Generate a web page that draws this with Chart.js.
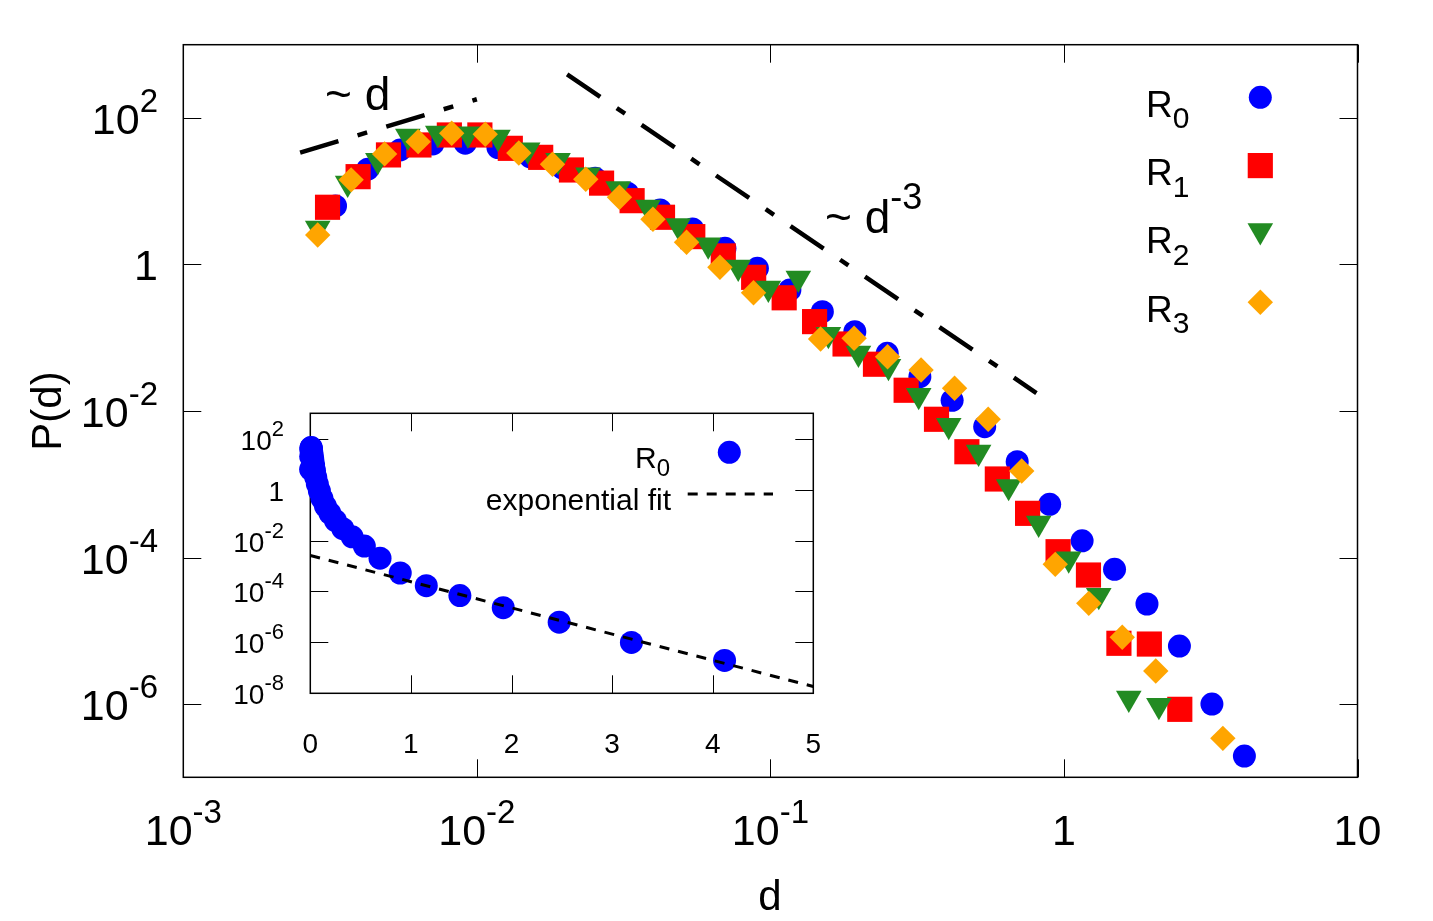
<!DOCTYPE html>
<html>
<head>
<meta charset="utf-8">
<title>P(d)</title>
<script src="https://cdn.jsdelivr.net/npm/chart.js@4.4.1/dist/chart.umd.min.js"></script>
<style>
  body { margin: 0; background: #fff; }
  #wrap { position: relative; width: 1433px; height: 921px; }
  #main { position: absolute; left: 0; top: 0; }
  #inset { position: absolute; left: 225px; top: 400px; }
</style>
</head>
<body>
<div id="wrap">
  <canvas id="main" width="1433" height="921"></canvas>
  <canvas id="inset" width="615" height="365"></canvas>
</div>
<script>
// ---- data ----
const r0D = [0.00330, 0.00425, 0.00548, 0.00708, 0.00913, 0.0118, 0.0152, 0.0196, 0.0253, 0.0326, 0.0421, 0.0543, 0.0700, 0.0903, 0.1165, 0.1503, 0.1939, 0.250, 0.323, 0.416, 0.537, 0.693, 0.894, 1.153, 1.487, 1.918, 2.474, 3.192, 4.118];
const r0P = [6.30, 20.0, 36.6, 44.2, 45.2, 39.4, 29.4, 20.7, 15.0, 9.38, 5.55, 3.05, 1.66, 0.887, 0.449, 0.227, 0.121, 0.0614, 0.0294, 0.0140, 0.00611, 0.00203, 5.32e-4, 1.69e-4, 6.90e-5, 2.32e-5, 6.19e-6, 1.00e-6, 1.95e-7];

const r1D = [0.00310, 0.00394, 0.00500, 0.00635, 0.00806, 0.01024, 0.0130, 0.0165, 0.0210, 0.0266, 0.0338, 0.0429, 0.0544, 0.0691, 0.0877, 0.1114, 0.1414, 0.1796, 0.228, 0.290, 0.368, 0.467, 0.593, 0.752, 0.955, 1.212, 1.539, 1.954, 2.481];
const r1P = [6.04, 15.8, 31.3, 42.8, 58.6, 58.6, 38.5, 29.0, 19.5, 12.9, 7.43, 4.41, 2.40, 1.31, 0.668, 0.351, 0.166, 0.0822, 0.0435, 0.0192, 0.00771, 0.00278, 0.00118, 4.01e-4, 1.20e-4, 5.77e-5, 6.75e-6, 6.59e-6, 8.47e-7];

const r2D = [0.00287, 0.00363, 0.00460, 0.00582, 0.00736, 0.00932, 0.0118, 0.0149, 0.0189, 0.0239, 0.0303, 0.0383, 0.0485, 0.0614, 0.0777, 0.0984, 0.1245, 0.1576, 0.1995, 0.2525, 0.320, 0.405, 0.512, 0.648, 0.820, 1.038, 1.314, 1.663, 2.106];
const r2P = [3.13, 12.9, 26.3, 56.5, 61.9, 60.7, 54.7, 36.7, 26.3, 16.7, 10.8, 6.05, 3.40, 1.85, 0.918, 0.474, 0.650, 0.111, 0.0615, 0.0406, 0.0163, 0.00634, 0.00274, 9.31e-4, 2.94e-4, 9.57e-5, 3.03e-5, 1.20e-6, 9.55e-7];

const r3D = [0.00287, 0.00373, 0.00485, 0.00631, 0.00821, 0.01068, 0.0139, 0.0181, 0.0235, 0.0306, 0.0398, 0.0518, 0.0673, 0.0876, 0.1482, 0.1928, 0.2507, 0.326, 0.424, 0.552, 0.718, 0.934, 1.215, 1.580, 2.055, 3.478];
const r3P = [2.53, 14.3, 32.3, 47.5, 61.8, 59.9, 33.3, 23.3, 14.6, 8.26, 4.14, 2.01, 0.916, 0.412, 0.0962, 0.0984, 0.0551, 0.0363, 0.0204, 0.00771, 0.00152, 8.07e-5, 2.37e-5, 8.15e-6, 2.82e-6, 3.40e-7];

// guide lines ~d and ~d^-3
const upD = [0.0025, 0.0100];
const upP = [33.6, 180];
const downD = [0.0203, 0.806];
const downP = [393, 0.0176];

// inset exponential fit
const fitD = [0, 5];
const fitP = [2.6e-3, 1.85e-8];

// ticks and labels
const mainXTicks = [1e-3, 1e-2, 1e-1, 1, 10];
const mainXLabels = [['10', '-3'], ['10', '-2'], ['10', '-1'], ['1', ''], ['10', '']];
const mainYTicks = [1e2, 1, 1e-2, 1e-4, 1e-6];
const mainYLabels = [['10', '2'], ['1', ''], ['10', '-2'], ['10', '-4'], ['10', '-6']];
const insetXTicks = [0, 1, 2, 3, 4, 5];
const insetYTicks = [1e2, 1, 1e-2, 1e-4, 1e-6, 1e-8];
const insetYLabels = [['10', '2'], ['1', ''], ['10', '-2'], ['10', '-4'], ['10', '-6'], ['10', '-8']];

const seriesNames = ['R', 'R', 'R', 'R'];
const seriesSubs = ['0', '1', '2', '3'];

// ---- styles ----
const FONT = '"Liberation Sans", Arial, Helvetica, sans-serif';
const BLUE = '#0000ff', RED = '#ff0000', GREEN = '#228b22', ORANGE = '#ffa500';

const markers = [
    { pointStyle: 'circle',   rotation: 0,   radius: 11.5, color: BLUE },
    { pointStyle: 'rect',     rotation: 0,   radius: 17.8, color: RED },
    { pointStyle: 'triangle', rotation: 180, radius: 14.8, color: GREEN },
    { pointStyle: 'rectRot',  rotation: 0,   radius: 12.7, color: ORANGE }
];

function toXY(xs, ys) {
    return xs.map((x, i) => ({ x: x, y: ys[i] }));
}

// text with superscript (shift < 0) or subscript (shift > 0)
function scriptText(ctx, base, script, x, y, align, size, smallSize, shift) {
    ctx.font = size + 'px ' + FONT;
    const wb = ctx.measureText(base).width;
    ctx.font = smallSize + 'px ' + FONT;
    const ws = script ? ctx.measureText(script).width : 0;
    const w = wb + ws;
    let x0 = x;
    if (align === 'center') x0 = x - w / 2;
    if (align === 'right') x0 = x - w;
    ctx.textAlign = 'left';
    ctx.textBaseline = 'alphabetic';
    ctx.font = size + 'px ' + FONT;
    ctx.fillText(base, x0, y);
    if (script) {
        ctx.font = smallSize + 'px ' + FONT;
        ctx.fillText(script, x0 + wb, y + shift);
    }
}

function drawMarker(ctx, m, x, y) {
    ctx.save();
    ctx.fillStyle = m.color;
    Chart.helpers.drawPoint(ctx, { pointStyle: m.pointStyle, rotation: m.rotation, radius: m.radius, borderWidth: 0 }, x, y);
    ctx.restore();
}

function frameAndTicks(chart, xTicks, yTicks, len) {
    const ctx = chart.ctx, a = chart.chartArea, sx = chart.scales.x, sy = chart.scales.y;
    ctx.save();
    ctx.strokeStyle = '#000';
    ctx.lineWidth = 1;
    ctx.beginPath();
    xTicks.forEach(v => {
        const px = Math.round(sx.getPixelForValue(v)) + 0.5;
        ctx.moveTo(px, a.bottom); ctx.lineTo(px, a.bottom - len);
        ctx.moveTo(px, a.top); ctx.lineTo(px, a.top + len);
    });
    yTicks.forEach(v => {
        const py = Math.round(sy.getPixelForValue(v)) + 0.5;
        ctx.moveTo(a.left, py); ctx.lineTo(a.left + len, py);
        ctx.moveTo(a.right, py); ctx.lineTo(a.right - len, py);
    });
    ctx.stroke();
    ctx.lineWidth = 1.5;
    ctx.strokeRect(a.left, a.top, a.right - a.left, a.bottom - a.top);
    ctx.restore();
}

// ---- main chart decorations ----
const mainDeco = {
    id: 'mainDeco',
    beforeDatasetsDraw(chart) {
        frameAndTicks(chart, mainXTicks, mainYTicks, 18);
    },
    afterDraw(chart) {
        const ctx = chart.ctx, sx = chart.scales.x, sy = chart.scales.y;
        ctx.save();
        ctx.fillStyle = '#000';

        // tick labels
        mainXTicks.forEach((v, i) => {
            scriptText(ctx, mainXLabels[i][0], mainXLabels[i][1], sx.getPixelForValue(v), 845, 'center', 43, 33, -22);
        });
        mainYTicks.forEach((v, i) => {
            scriptText(ctx, mainYLabels[i][0], mainYLabels[i][1], 158, sy.getPixelForValue(v) + 16, 'right', 43, 33, -22);
        });

        // axis titles
        ctx.font = '42px ' + FONT;
        ctx.textAlign = 'center';
        ctx.textBaseline = 'alphabetic';
        ctx.fillText('d', 770, 910);
        ctx.save();
        ctx.translate(49, 411);
        ctx.rotate(-Math.PI / 2);
        ctx.textBaseline = 'middle';
        ctx.fillText('P(d)', 0, 0);
        ctx.restore();

        // slope annotations
        scriptText(ctx, '~ d', '', 325, 110, 'left', 46, 35, 0);
        scriptText(ctx, '~ d', '-3', 825, 233, 'left', 46, 36, -24);

        // legend
        for (let i = 0; i < 4; i++) {
            const base = 116.7 + i * 68.3;
            scriptText(ctx, seriesNames[i], seriesSubs[i], 1146, base, 'left', 37, 30, 11.7);
            drawMarker(ctx, markers[i], 1260.3, i === 2 ? base - 22.6 : base - 19.4);
        }
        ctx.restore();
    }
};

const scatterSet = (label, xs, ys, m, order) => ({
    label: label,
    data: toXY(xs, ys),
    showLine: false,
    pointStyle: m.pointStyle,
    pointRotation: m.rotation,
    pointRadius: m.radius,
    pointBorderWidth: 0,
    pointBackgroundColor: m.color,
    pointBorderColor: m.color,
    order: order,
    clip: false
});

const guideSet = (xs, ys) => ({
    data: toXY(xs, ys),
    showLine: true,
    pointRadius: 0,
    borderColor: '#000',
    borderWidth: 4.5,
    borderDash: [40, 20, 10, 20],
    borderCapStyle: 'butt',
    fill: false,
    order: 5
});

new Chart(document.getElementById('main'), {
    type: 'scatter',
    data: {
        datasets: [
            scatterSet('R0', r0D, r0P, markers[0], 3),
            scatterSet('R1', r1D, r1P, markers[1], 2),
            scatterSet('R2', r2D, r2P, markers[2], 1),
            scatterSet('R3', r3D, r3P, markers[3], 0),
            guideSet(upD, upP),
            guideSet(downD, downP)
        ]
    },
    options: {
        responsive: false,
        animation: false,
        events: [],
        layout: { padding: { left: 183.3, top: 44.7, right: 75.5, bottom: 143.7 } },
        scales: {
            x: { type: 'logarithmic', min: 1e-3, max: 10, display: false },
            y: { type: 'logarithmic', min: 1e-7, max: 1e3, display: false }
        },
        plugins: { legend: { display: false }, tooltip: { enabled: false } }
    },
    plugins: [mainDeco]
});

// ---- inset ----
const insetDeco = {
    id: 'insetDeco',
    beforeDatasetsDraw(chart) {
        frameAndTicks(chart, insetXTicks, insetYTicks, 18);
    },
    afterDraw(chart) {
        const ctx = chart.ctx, sx = chart.scales.x, sy = chart.scales.y;
        ctx.save();
        ctx.fillStyle = '#000';
        insetXTicks.forEach(v => {
            scriptText(ctx, String(v), '', sx.getPixelForValue(v), 353, 'center', 28, 22, 0);
        });
        insetYTicks.forEach((v, i) => {
            scriptText(ctx, insetYLabels[i][0], insetYLabels[i][1], 59, sy.getPixelForValue(v) + 11, 'right', 28, 22, -14);
        });

        // legend
        scriptText(ctx, 'R', '0', 445, 68.3, 'right', 30, 24, 8);
        drawMarker(ctx, markers[0], 504.3, 52.3);
        ctx.font = '30px ' + FONT;
        ctx.textAlign = 'right';
        ctx.fillText('exponential fit', 446, 110);
        ctx.strokeStyle = '#000';
        ctx.lineWidth = 3;
        ctx.setLineDash([10, 9]);
        ctx.beginPath();
        ctx.moveTo(462.7, 94);
        ctx.lineTo(548, 94);
        ctx.stroke();
        ctx.restore();
    }
};

new Chart(document.getElementById('inset'), {
    type: 'scatter',
    data: {
        datasets: [
            scatterSet('R0', r0D, r0P, markers[0], 1),
            {
                label: 'exponential fit',
                data: toXY(fitD, fitP),
                showLine: true,
                pointRadius: 0,
                borderColor: '#000',
                borderWidth: 3,
                borderDash: [10, 9],
                fill: false,
                order: 0
            }
        ]
    },
    options: {
        responsive: false,
        animation: false,
        events: [],
        layout: { padding: { left: 85.3, top: 13.3, right: 26.7, bottom: 71.7 } },
        scales: {
            x: { type: 'linear', min: 0, max: 5, display: false },
            y: { type: 'logarithmic', min: 1e-8, max: 1e3, display: false }
        },
        plugins: { legend: { display: false }, tooltip: { enabled: false } }
    },
    plugins: [insetDeco]
});
</script>
</body>
</html>
